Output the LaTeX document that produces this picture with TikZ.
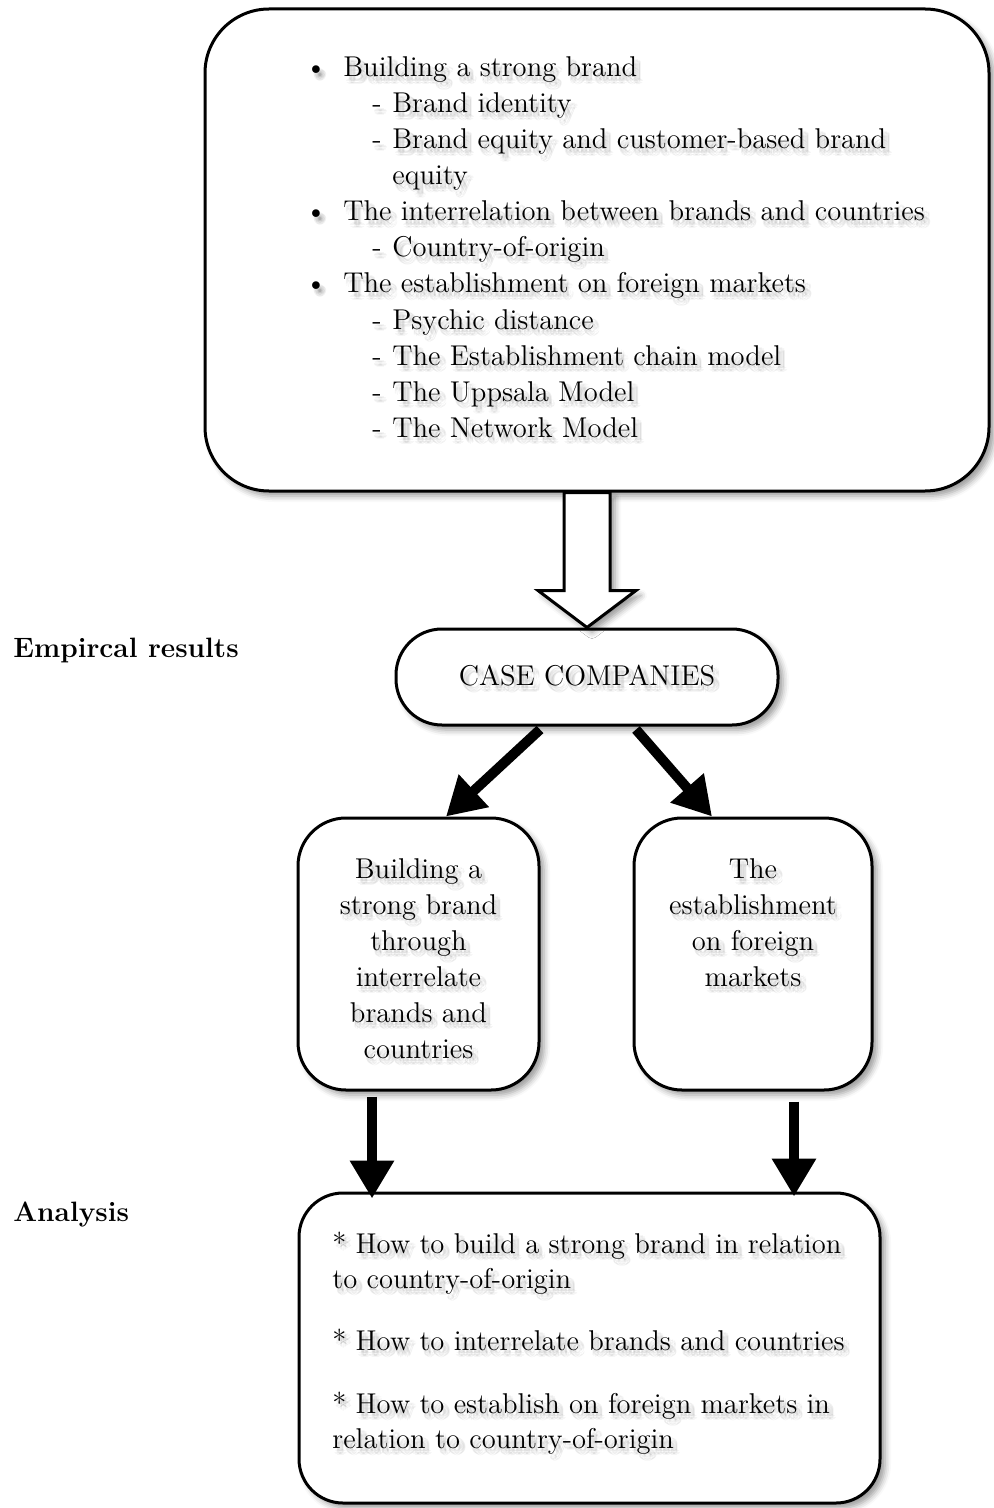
\documentclass[tikz,border=0pt]{standalone}
\usetikzlibrary{arrows.meta,calc,shadows.blur}

% every text of the chart; drawn a few times faintly as a soft shadow,
% then once in black
\newcommand\charttexts{%
  \foreach \y/\t [count=\i] in {77/Building a strong brand,
      221/The interrelation between brands and countries,
      293/The establishment on foreign markets} {
    \node[txt, anchor=base] (dot\i) at (316,\y) {\textbullet};
    \node[txt, anchor=base west] (head\i) at (343,\y) {\t};
  }
  \foreach \y/\t [count=\i] in {113/Brand identity,
      149/Brand equity and customer-based brand,
      257/Country-of-origin, 329/Psychic distance,
      365/The Establishment chain model, 401/The Uppsala Model,
      437/The Network Model} {
    \node[txt, anchor=base west] (dash\i) at (372,\y) {-};
    \node[txt, anchor=base west] (sub\i) at (392,\y) {\t};
  }
  \node[txt, anchor=base west] (subcont) at (392,185) {equity};
  \node[txt, anchor=base] (casetext) at (587,685) {CASE COMPANIES};
  \foreach \t [count=\i from 0] in {Building a, strong brand, through,
      interrelate, brands and, countries}
    \node[txt, anchor=base] (lt\i) at (418.5,{878+36*\i}) {\t};
  \foreach \t [count=\i from 0] in {The, establishment, on foreign, markets}
    \node[txt, anchor=base] (rt\i) at (753,{878+36*\i}) {\t};
  \foreach \y/\t [count=\i] in {1253/* How to build a strong brand in relation,
      1288/to country-of-origin,
      1350/* How to interrelate brands and countries,
      1413/* How to establish on foreign markets in,
      1448/relation to country-of-origin}
    \node[txt, anchor=base west] (q\i) at (332,\y) {\t};
}

\begin{document}
\begin{tikzpicture}[x=0.5pt,y=-0.5pt,
  txt/.style={inner sep=0pt, font=\fontsize{14.3}{17}\selectfont},
  lbl/.style={inner sep=0pt, font=\fontsize{14}{17}\selectfont\bfseries},
  box/.style={draw, line width=1.5pt, fill=white, rounded corners=#1,
    inner sep=0pt,
    blur shadow={shadow xshift=2.5pt, shadow yshift=-2.5pt,
      shadow blur radius=3pt, shadow opacity=40}},
  box/.default=24pt,
  bigarrow/.style={line width=5pt, draw=black, opacity=1,
    -{Triangle[length=19pt,width=21pt,fill=black]}},
  hollow/.style={draw, line width=1.5pt, fill=white, line join=miter,
    blur shadow={shadow xshift=2.5pt, shadow yshift=-2.5pt,
      shadow blur radius=3pt, shadow opacity=40}}]

\useasboundingbox (0,0) rectangle (993,1508);

% boxes
\node[box=32pt, minimum width=392pt, minimum height=241pt] (top) at (597,250) {};
\node[box=23pt, minimum width=191pt, minimum height=48pt] (case) at (587,677) {};
\node[box, minimum width=120.5pt, minimum height=136pt] (bl) at (418.5,954) {};
\node[box, minimum width=119pt, minimum height=136pt] (br) at (753,954) {};
\node[box=22pt, minimum width=290.5pt, minimum height=155pt] (bot) at (589.5,1348) {};

% solid arrows between the boxes
\draw[bigarrow] ($(case.south)+(-47,3)$) -- ($(bl.north)+(27.5,0)$);
\draw[bigarrow] ($(case.south)+(49,3)$) -- ($(br.north)+(-41,0)$);
\draw[bigarrow] ($(bl.south)+(-46.5,5)$) -- ($(bot.north)+(-217.5,7)$);
\draw[bigarrow] ($(br.south)+(41,10)$) -- ($(bot.north)+(204.5,5)$);

% hollow block arrow from the theory box to the case companies
\draw[hollow] ($(top.south -| case.north)+(-23,0)$)
  -- ($(case.north)+(-23,-37)$) -- ($(case.north)+(-49,-37)$)
  -- (case.north)
  -- ($(case.north)+(49,-37)$) -- ($(case.north)+(23,-37)$)
  -- ($(top.south -| case.north)+(23,0)$) -- cycle;

% soft text shadow
\foreach \a in {0,45,...,315} {
  \begin{scope}[transform canvas={shift={({2pt+1.3pt*cos(\a)},{-2.5pt+1.3pt*sin(\a)})}},
      text=black, text opacity=0.045]
    \charttexts
  \end{scope}
}
\charttexts

% side labels
\node[lbl, anchor=base west] (emp) at (13,657) {Empircal results};
\node[lbl, anchor=base west] (ana) at (13,1221) {Analysis};
\end{tikzpicture}
\end{document}
